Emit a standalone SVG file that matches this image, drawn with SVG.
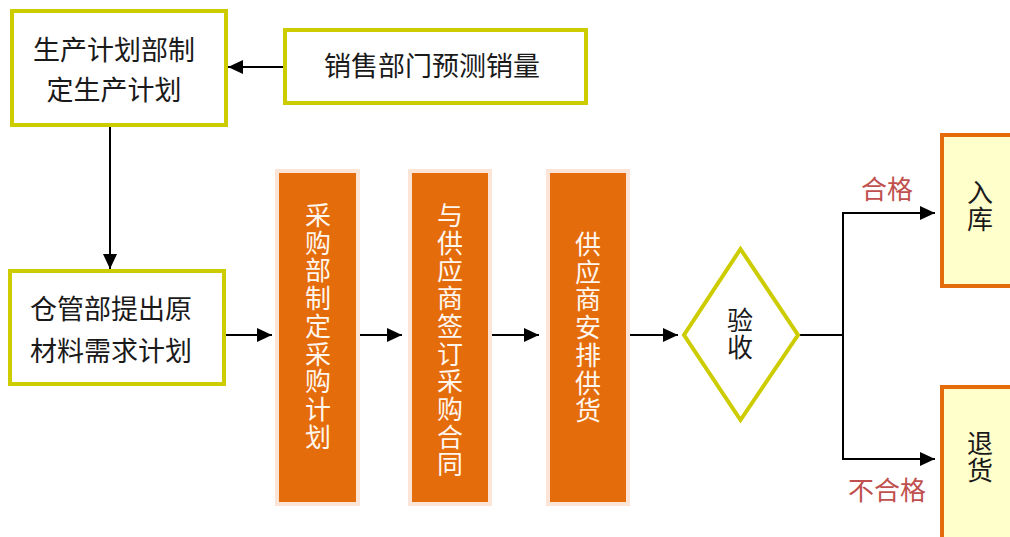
<svg xmlns="http://www.w3.org/2000/svg" width="1010" height="537" viewBox="0 0 1010 537">
<defs>
<marker id="ah" markerUnits="userSpaceOnUse" markerWidth="15" markerHeight="14" refX="15" refY="7" orient="auto">
<path d="M0,0 L15,7 L0,14 z" fill="#000"/>
</marker>
<style>
.yb{fill:#fff;stroke:#cccc00;stroke-width:4}
.ob{fill:#e46c0a;stroke:#fce4d6;stroke-width:4}
.rb{fill:#ffffcc;stroke:#e46c0a;stroke-width:4}
.t{font-family:"Liberation Serif","Noto Sans CJK SC",serif;font-size:27px;fill:#1a1a1a;text-anchor:middle;dominant-baseline:central}
.s{font-size:26px}
.w{fill:#fff6ee;font-size:26px}
.r{fill:#c0504d;font-size:26px}
.c{fill:none;stroke:#000;stroke-width:2}
</style>
</defs>
<rect width="1010" height="537" fill="#fff"/>
<g id="connectors">
<line class="c" x1="285" y1="67" x2="228" y2="67" marker-end="url(#ah)"/>
<line class="c" x1="110" y1="127" x2="110" y2="269" marker-end="url(#ah)"/>
<line class="c" x1="226" y1="335" x2="272" y2="335" marker-end="url(#ah)"/>
<line class="c" x1="358" y1="335" x2="402" y2="335" marker-end="url(#ah)"/>
<line class="c" x1="491" y1="335" x2="539" y2="335" marker-end="url(#ah)"/>
<line class="c" x1="630" y1="335" x2="678" y2="335" marker-end="url(#ah)"/>
<line class="c" x1="798" y1="335" x2="844" y2="335"/>
<line class="c" x1="843" y1="212" x2="843" y2="460"/>
<line class="c" x1="842" y1="213" x2="935" y2="213" marker-end="url(#ah)"/>
<line class="c" x1="842" y1="459" x2="935" y2="459" marker-end="url(#ah)"/>
</g>
<g id="n1">
<rect class="yb" x="12" y="11" width="214" height="114"/>
<text class="t" x="114" y="51">生产计划部制</text>
<text class="t" x="114" y="91">定生产计划</text>
</g>
<g id="n2">
<rect class="yb" x="285" y="30" width="301" height="73"/>
<text class="t" x="432" y="67">销售部门预测销量</text>
</g>
<g id="n3">
<rect class="yb" x="10" y="271" width="214" height="113"/>
<text class="t" x="111" y="310">仓管部提出原</text>
<text class="t" x="111" y="352">材料需求计划</text>
</g>
<g id="n4">
<rect class="ob" x="277" y="171" width="81" height="333"/>
<text class="t w" x="318"><tspan x="318" y="216">采</tspan><tspan x="318" y="243.7">购</tspan><tspan x="318" y="271.4">部</tspan><tspan x="318" y="299.1">制</tspan><tspan x="318" y="326.8">定</tspan><tspan x="318" y="354.5">采</tspan><tspan x="318" y="382.2">购</tspan><tspan x="318" y="409.9">计</tspan><tspan x="318" y="437.6">划</tspan></text>
</g>
<g id="n5">
<rect class="ob" x="410" y="171" width="80" height="333"/>
<text class="t w" x="450"><tspan x="450" y="216">与</tspan><tspan x="450" y="243.7">供</tspan><tspan x="450" y="271.4">应</tspan><tspan x="450" y="299.1">商</tspan><tspan x="450" y="326.8">签</tspan><tspan x="450" y="354.5">订</tspan><tspan x="450" y="382.2">采</tspan><tspan x="450" y="409.9">购</tspan><tspan x="450" y="437.6">合</tspan><tspan x="450" y="465.3">同</tspan></text>
</g>
<g id="n6">
<rect class="ob" x="548" y="171" width="80" height="333"/>
<text class="t w" x="588"><tspan x="588" y="245">供</tspan><tspan x="588" y="272.7">应</tspan><tspan x="588" y="300.4">商</tspan><tspan x="588" y="328.1">安</tspan><tspan x="588" y="355.8">排</tspan><tspan x="588" y="383.5">供</tspan><tspan x="588" y="411.2">货</tspan></text>
</g>
<g id="n7">
<polygon class="yb" points="740.5,249 798,335 740.5,420 684,335"/>
<text class="t s"><tspan x="740" y="321">验</tspan><tspan x="740" y="348">收</tspan></text>
</g>
<g id="n8">
<rect class="rb" x="942" y="135" width="80" height="151"/>
<text class="t s"><tspan x="980" y="193">入</tspan><tspan x="980" y="220">库</tspan></text>
</g>
<g id="n9">
<rect class="rb" x="942" y="387" width="80" height="170"/>
<text class="t s"><tspan x="980" y="444">退</tspan><tspan x="980" y="471">货</tspan></text>
</g>
<g id="labels">
<text class="t r" x="887" y="190">合格</text>
<text class="t r" x="887" y="491">不合格</text>
</g>
</svg>
